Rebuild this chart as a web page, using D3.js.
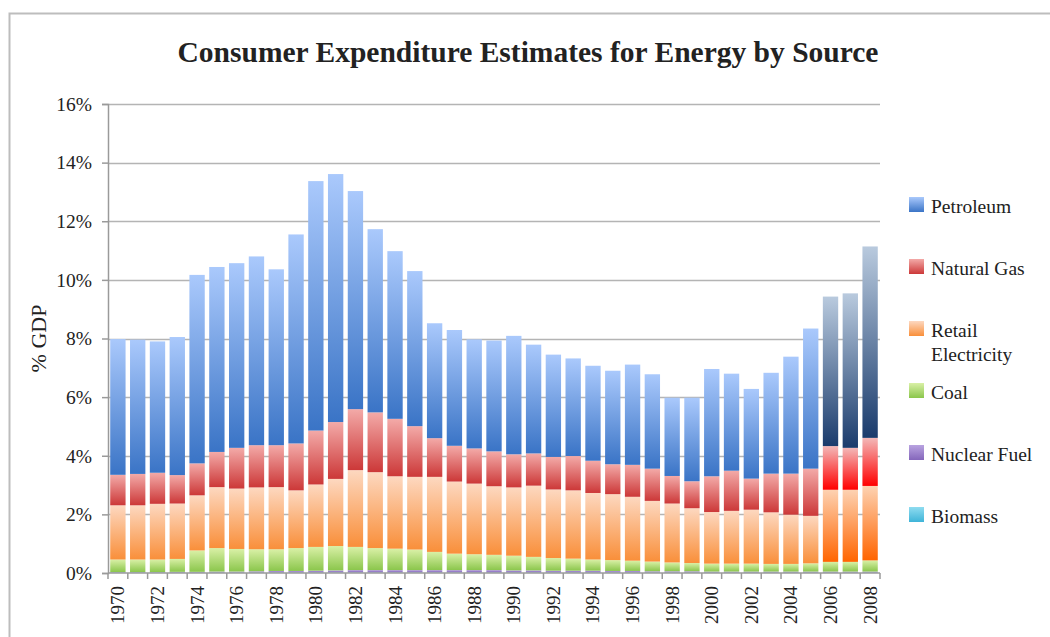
<!DOCTYPE html>
<html lang="en">
<head>
    <meta charset="UTF-8">
    <title>Consumer Expenditure Estimates for Energy by Source</title>
    <style>
        body { margin: 0; background: #fff; }
        text { font-family: "Liberation Serif", "Times New Roman", serif; fill: #222; }
    </style>
</head>
<body>
    <div class="container"></div>
    <script src="https://cdn.jsdelivr.net/npm/d3@7/dist/d3.min.js"></script>
    <script>
        // Data (% of GDP)
        const years = d3.range(1970, 2009)
        const biomass = [0.02,0.02,0.02,0.02,0.02,0.02,0.02,0.02,0.02,0.02,0.02,0.02,0.02,0.02,0.02,0.02,0.02,0.02,0.02,0.02,0.02,0.02,0.02,0.02,0.02,0.02,0.02,0.02,0.02,0.02,0.02,0.02,0.02,0.02,0.02,0.02,0.02,0.02,0.02]
        const nuclear = [0.01,0.01,0.01,0.02,0.02,0.03,0.03,0.04,0.05,0.05,0.06,0.07,0.08,0.08,0.08,0.08,0.08,0.08,0.08,0.08,0.07,0.07,0.06,0.06,0.06,0.05,0.05,0.04,0.04,0.04,0.03,0.03,0.03,0.03,0.03,0.03,0.03,0.03,0.03]
        const coal = [0.43,0.43,0.43,0.44,0.73,0.80,0.77,0.75,0.74,0.78,0.81,0.83,0.79,0.75,0.73,0.70,0.62,0.56,0.54,0.52,0.50,0.46,0.43,0.41,0.38,0.37,0.35,0.33,0.30,0.28,0.27,0.27,0.27,0.26,0.26,0.28,0.33,0.33,0.38]
        const electricity = [1.85,1.85,1.90,1.89,1.88,2.08,2.06,2.11,2.12,1.97,2.13,2.29,2.62,2.59,2.47,2.48,2.56,2.46,2.41,2.34,2.33,2.43,2.34,2.33,2.27,2.25,2.18,2.07,2.01,1.87,1.76,1.80,1.84,1.76,1.68,1.62,2.46,2.46,2.54]
        const naturalGas = [1.04,1.07,1.06,0.97,1.09,1.20,1.39,1.44,1.43,1.60,1.84,1.94,2.08,2.04,1.96,1.73,1.32,1.22,1.20,1.19,1.13,1.10,1.11,1.17,1.10,1.02,1.09,1.10,0.94,0.92,1.22,1.37,1.06,1.32,1.40,1.61,1.49,1.43,1.64]
        const petroleum = [4.63,4.58,4.48,4.71,6.43,6.31,6.30,6.44,6.00,7.13,8.51,8.46,7.44,6.25,5.72,5.29,3.92,3.95,3.72,3.78,4.04,3.71,3.49,3.33,3.24,3.19,3.42,3.22,2.67,2.85,3.66,3.31,3.06,3.44,3.99,4.78,5.10,5.27,6.53]
        const highlightYears = [2006, 2007, 2008]
        const yTicks = [0, 2, 4, 6, 8, 10, 12, 14, 16]

        const seriesKeys = ["biomass", "nuclear", "coal", "electricity", "naturalGas", "petroleum"]
        const seriesNames = {
            petroleum: "Petroleum", naturalGas: "Natural Gas", electricity: "Retail Electricity",
            coal: "Coal", nuclear: "Nuclear Fuel", biomass: "Biomass"
        }
        // gradient stops: [top, bottom]
        const colors = {
            petroleum: ["#aac9fc", "#3a74c6"],
            naturalGas: ["#f3aaa8", "#cc3838"],
            electricity: ["#fdd8c0", "#f98f3a"],
            coal: ["#d9f0a6", "#8bc64c"],
            nuclear: ["#b9a3e0", "#8466bb"],
            biomass: ["#8fdcf0", "#3fb4d8"]
        }
        const lateColors = {
            petroleum: ["#b9cade", "#1a3b6c"],
            naturalGas: ["#f3b8b8", "#ff0000"],
            electricity: ["#fdd2b2", "#ff6400"],
            coal: ["#d9f0a6", "#8bc64c"],
            nuclear: ["#b9a3e0", "#8466bb"],
            biomass: ["#8fdcf0", "#3fb4d8"]
        }

        const table = years.map((yr, i) => ({
            year: yr, biomass: biomass[i], nuclear: nuclear[i], coal: coal[i],
            electricity: electricity[i], naturalGas: naturalGas[i], petroleum: petroleum[i]
        }))

        // Layout
        const width = 1050
        const height = 637
        const plotLeft = 108
        const plotRight = 880
        const plotTop = 104
        const plotBottom = 573

        const svg = d3.select(".container")
            .append("svg")
            .attr("width", width)
            .attr("height", height)

        // Frame round the whole picture
        svg.append("path")
            .attr("d", `M9.5,${height} V13.5 H${width}`)
            .attr("fill", "none")
            .attr("stroke", "#bdbdbd")
            .attr("stroke-width", 2)

        // Gradients
        const defs = svg.append("defs")
        function addGradient(id, stops) {
            const g = defs.append("linearGradient")
                .attr("id", id)
                .attr("x1", 0).attr("y1", 0).attr("x2", 0).attr("y2", 1)
            g.append("stop").attr("offset", "0%").attr("stop-color", stops[0])
            g.append("stop").attr("offset", "100%").attr("stop-color", stops[1])
        }
        seriesKeys.forEach(k => {
            addGradient(`g-${k}`, colors[k])
            addGradient(`g-late-${k}`, lateColors[k])
        })

        // Scales
        const x = d3.scaleBand()
            .domain(years)
            .range([plotLeft, plotRight])
            .paddingInner(0.225)
            .paddingOuter(0.1125)
        const y = d3.scaleLinear()
            .domain([0, 16])
            .range([plotBottom, plotTop])

        // Grid lines
        const grid = svg.append("g").attr("class", "grid")
        grid.selectAll("line")
            .data(yTicks.filter(d => d > 0))
            .join("line")
            .attr("x1", plotLeft)
            .attr("x2", plotRight)
            .attr("y1", d => Math.round(y(d)) + 0.5)
            .attr("y2", d => Math.round(y(d)) + 0.5)
            .attr("stroke", "#b4b4b4")
            .attr("stroke-width", 1.5)

        // Stacked bars
        const stack = d3.stack().keys(seriesKeys)
        const layers = stack(table)
        const barsGroup = svg.append("g").attr("class", "bars")
        layers.forEach(layer => {
            barsGroup.append("g")
                .attr("class", layer.key)
                .selectAll("rect")
                .data(layer)
                .join("rect")
                .attr("x", d => x(d.data.year))
                .attr("width", x.bandwidth())
                .attr("y", d => y(d[1]))
                .attr("height", d => y(d[0]) - y(d[1]))
                .attr("fill", d => highlightYears.includes(d.data.year)
                    ? `url(#g-late-${layer.key})` : `url(#g-${layer.key})`)
        })

        // Y axis
        const yAxis = d3.axisLeft(y)
            .tickValues(yTicks)
            .tickSize(6)
            .tickPadding(10)
            .tickFormat(d => d + "%")
        const yAxisGroup = svg.append("g")
            .attr("transform", `translate(${plotLeft},0)`)
            .call(yAxis)
        yAxisGroup.select(".domain").attr("stroke", "#9a9a9a").attr("stroke-width", 1.5)
        yAxisGroup.selectAll(".tick line").attr("stroke", "#9a9a9a").attr("stroke-width", 1.5)
        yAxisGroup.selectAll(".tick text")
            .style("font-family", '"Liberation Serif", "Times New Roman", serif')
            .style("font-size", "19.5px")
            .attr("fill", "#222")

        // X axis: ticks between bars, labels on every other year
        const step = x.step()
        const xAxisGroup = svg.append("g").attr("class", "x-axis")
        xAxisGroup.append("line")
            .attr("x1", plotLeft).attr("x2", plotRight)
            .attr("y1", plotBottom).attr("y2", plotBottom)
            .attr("stroke", "#9a9a9a").attr("stroke-width", 1.5)
        xAxisGroup.selectAll("line.tick")
            .data(years.concat([years[years.length - 1] + 1]))
            .join("line")
            .attr("class", "tick")
            .attr("x1", (d, i) => plotLeft + i * step)
            .attr("x2", (d, i) => plotLeft + i * step)
            .attr("y1", plotBottom)
            .attr("y2", plotBottom + 6)
            .attr("stroke", "#9a9a9a").attr("stroke-width", 1.5)
        xAxisGroup.selectAll("text")
            .data(years.filter(d => d % 2 === 0))
            .join("text")
            .attr("transform", d => `translate(${x(d) + x.bandwidth() / 2 + 6.5},${plotBottom + 13}) rotate(-90)`)
            .attr("text-anchor", "end")
            .style("font-size", "19px")
            .text(d => d)

        // Axis title
        svg.append("text")
            .attr("transform", `translate(46,${(plotTop + plotBottom) / 2}) rotate(-90)`)
            .attr("text-anchor", "middle")
            .style("font-size", "22px")
            .text("% GDP")

        // Title
        svg.append("text")
            .attr("x", 528)
            .attr("y", 62)
            .attr("text-anchor", "middle")
            .style("font-size", "29.5px")
            .style("font-weight", "bold")
            .attr("fill", "#000")
            .text("Consumer Expenditure Estimates for Energy by Source")

        // Legend
        const legendKeys = ["petroleum", "naturalGas", "electricity", "coal", "nuclear", "biomass"]
        const legend = svg.append("g").attr("class", "legend")
        const legendItems = legend.selectAll("g")
            .data(legendKeys)
            .join("g")
            .attr("transform", (d, i) => `translate(909,${197 + i * 62})`)
        legendItems.append("rect")
            .attr("width", 15)
            .attr("height", 15)
            .attr("fill", d => `url(#g-${d})`)
        legendItems.each(function (d) {
            const t = d3.select(this).append("text")
                .attr("x", 22)
                .attr("y", 16)
                .style("font-size", "19.5px")
            if (d === "electricity") {
                t.append("tspan").attr("x", 22).text("Retail")
                t.append("tspan").attr("x", 22).attr("dy", 24).text("Electricity")
            } else {
                t.text(seriesNames[d])
            }
        })
    </script>
</body>
</html>
